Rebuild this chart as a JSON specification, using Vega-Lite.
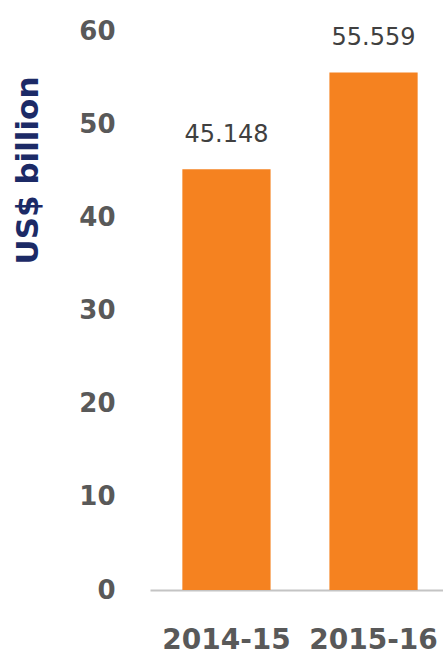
{
  "$schema": "https://vega.github.io/schema/vega-lite/v6.json",
  "autosize": {"type": "none"},
  "padding": {"left": 150, "top": 31, "right": 0, "bottom": 65},
  "width": 293,
  "height": 559,
  "background": "white",
  "data": {"values": [
    {"year": "2014-15", "value": 45.148},
    {"year": "2015-16", "value": 55.559}
  ]},
  "encoding": {
    "x": {
      "field": "year", "type": "nominal", "sort": null,
      "scale": {"paddingInner": 0.4, "paddingOuter": 0.22, "range": [0, 300]},
      "axis": {
        "title": null, "labelAngle": 0, "ticks": false,
        "domainColor": "#c4c4c4", "domainWidth": 2,
        "labelFont": "DejaVu Sans", "labelFontWeight": "bold", "labelFontSize": 28,
        "labelColor": "#595959", "labelPadding": 36
      }
    },
    "y": {
      "field": "value", "type": "quantitative",
      "scale": {"domain": [0, 60], "nice": false},
      "axis": {
        "values": [0, 10, 20, 30, 40, 50, 60],
        "title": "US$ billion", "grid": false, "domain": false, "ticks": false,
        "labelFont": "DejaVu Sans", "labelFontWeight": "bold", "labelFontSize": 26,
        "labelColor": "#595959", "labelPadding": 35,
        "titleFont": "DejaVu Sans", "titleFontWeight": "bold", "titleFontSize": 31,
        "titleColor": "#1c2a66", "titlePadding": 34, "titleY": 139, "titleAlign": "center"
      }
    }
  },
  "layer": [
    {"mark": {"type": "bar", "color": "#f58220"},
     "encoding": {}},
    {"mark": {"type": "text", "baseline": "alphabetic", "dy": -27,
              "font": "DejaVu Sans", "fontSize": 24, "color": "#404040"},
     "encoding": {"text": {"field": "value", "type": "quantitative", "format": ".3f"}}}
  ],
  "config": {"view": {"stroke": null}}
}
